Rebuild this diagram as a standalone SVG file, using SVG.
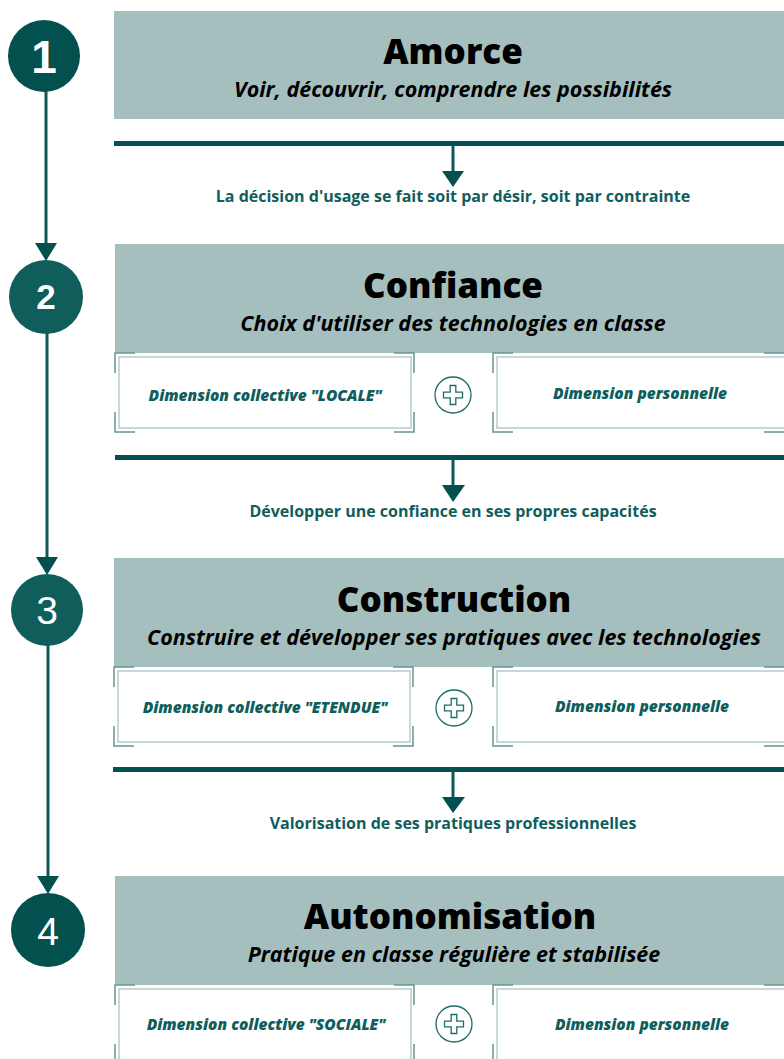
<svg xmlns="http://www.w3.org/2000/svg" width="784" height="1059" viewBox="0 0 784 1059">
<style>
.hdr{fill:#a5bfbf}
.title{font-family:"Open Sans","Liberation Sans",sans-serif;font-weight:800;font-size:35px;fill:#000;text-anchor:middle}
.sub{font-family:"Open Sans","Liberation Sans",sans-serif;font-weight:700;font-style:italic;font-size:21.5px;fill:#000;text-anchor:middle}
.lbl{font-family:"Open Sans","Liberation Sans",sans-serif;font-weight:700;font-size:16px;fill:#0f5e5c;text-anchor:middle}
.dim{font-family:"Open Sans","Liberation Sans",sans-serif;font-weight:800;font-style:italic;font-size:15.5px;fill:#0f5e5c;text-anchor:middle}
.num{font-family:"Liberation Sans",Arial,sans-serif;fill:#fff;text-anchor:middle}
.bar{fill:#02514f}
.brk{fill:none;stroke:#6a9494;stroke-width:1.5}
.inner{fill:#fff;stroke:#b5cccc;stroke-width:1.5}
.plus{fill:none;stroke:#1e6b69;stroke-width:1.3}
.conn{stroke:#0d5957;stroke-width:3;fill:none}
.tri{fill:#02514f}
</style>
<defs>
<g id="plusIcon">
<circle cx="0" cy="0" r="18" class="plus"/>
<path class="plus" d="M-2.8,-9.5 H2.8 V-2.8 H9.5 V2.8 H2.8 V9.5 H-2.8 V2.8 H-9.5 V-2.8 H-2.8 Z"/>
</g>
</defs>
<rect width="784" height="1059" fill="#fff"/>

<!-- connectors -->
<g id="connectors">
<line class="conn" x1="46" y1="90" x2="46" y2="246"/>
<polygon class="tri" points="35,243 57,243 46,261"/>
<line class="conn" x1="47" y1="332" x2="47" y2="560"/>
<polygon class="tri" points="36,557 58,557 47,575"/>
<line class="conn" x1="48" y1="645" x2="48" y2="879"/>
<polygon class="tri" points="37,876 59,876 48,894"/>

<rect class="bar" x="114" y="141" width="670" height="5"/>
<line class="conn" x1="453" y1="146" x2="453" y2="174"/>
<polygon class="tri" points="442,171 464,171 453,187"/>

<rect class="bar" x="115" y="455" width="669" height="5"/>
<line class="conn" x1="453" y1="460" x2="453" y2="487"/>
<polygon class="tri" points="442,485 465,485 453,502"/>

<rect class="bar" x="113" y="767" width="671" height="5"/>
<line class="conn" x1="453" y1="772" x2="453" y2="799"/>
<polygon class="tri" points="442,797 465,797 453,813"/>
</g>

<!-- step circles -->
<g id="step1">
<circle cx="44" cy="56" r="36" fill="#02514f"/>
<text class="num" x="44" y="73" font-size="46" font-weight="700">1</text>
</g>
<g id="step2">
<circle cx="46" cy="297" r="37" fill="#0f5e5c"/>
<text class="num" x="46" y="309" font-size="35" font-weight="700">2</text>
</g>
<g id="step3">
<circle cx="47" cy="610" r="36" fill="#0f5e5c"/>
<text class="num" x="47" y="624" font-size="39">3</text>
</g>
<g id="step4">
<circle cx="48" cy="930" r="37" fill="#02514f"/>
<text class="num" x="48" y="945" font-size="39">4</text>
</g>

<!-- Amorce -->
<g id="amorce">
<rect class="hdr" x="114" y="11" width="670" height="108"/>
<text class="title" x="453" y="64">Amorce</text>
<text class="sub" x="453" y="97">Voir, découvrir, comprendre les possibilités</text>
</g>
<g id="label1"><text class="lbl" x="453" y="202">La décision d'usage se fait soit par désir, soit par contrainte</text></g>

<!-- Confiance -->
<g id="confiance">
<rect class="hdr" x="115" y="244" width="669" height="109"/>
<text class="title" x="453" y="298">Confiance</text>
<text class="sub" x="453" y="331">Choix d'utiliser des technologies en classe</text>
</g>
<g id="conf-left">
<rect class="inner" x="119" y="357" width="292" height="71"/>
<path class="brk" d="M115,373 V353 H135 M394,353 H414 V373 M414,412 V432 H394 M135,432 H115 V412"/>
<text class="dim" x="265" y="401">Dimension collective "LOCALE"</text>
</g>
<g id="conf-plus"><use href="#plusIcon" x="453" y="395"/></g>
<g id="conf-right">
<rect class="inner" x="497" y="357" width="300" height="71"/>
<path class="brk" d="M493,373 V353 H513 M513,432 H493 V412 M764,353 H790 M764,432 H790"/>
<text class="dim" x="640" y="399">Dimension personnelle</text>
</g>
<g id="label2"><text class="lbl" x="453" y="517">Développer une confiance en ses propres capacités</text></g>

<!-- Construction -->
<g id="construction">
<rect class="hdr" x="114" y="558" width="670" height="109"/>
<text class="title" x="454" y="612">Construction</text>
<text class="sub" x="454" y="645">Construire et développer ses pratiques avec les technologies</text>
</g>
<g id="cons-left">
<rect class="inner" x="118" y="671" width="292" height="71"/>
<path class="brk" d="M114,687 V667 H134 M393,667 H413 V687 M413,726 V746 H393 M134,746 H114 V726"/>
<text class="dim" x="265" y="713">Dimension collective "ETENDUE"</text>
</g>
<g id="cons-plus"><use href="#plusIcon" x="454" y="708"/></g>
<g id="cons-right">
<rect class="inner" x="497" y="671" width="300" height="71"/>
<path class="brk" d="M493,687 V667 H513 M513,746 H493 V726 M764,667 H790 M764,746 H790"/>
<text class="dim" x="642" y="712">Dimension personnelle</text>
</g>
<g id="label3"><text class="lbl" x="453" y="829">Valorisation de ses pratiques professionnelles</text></g>

<!-- Autonomisation -->
<g id="autonomisation">
<rect class="hdr" x="115" y="876" width="669" height="109"/>
<text class="title" x="450" y="929">Autonomisation</text>
<text class="sub" x="454" y="962">Pratique en classe régulière et stabilisée</text>
</g>
<g id="auto-left">
<rect class="inner" x="119" y="989" width="292" height="80"/>
<path class="brk" d="M115,1005 V985 H135 M394,985 H414 V1005 M414,1044 V1064 M115,1044 V1064"/>
<text class="dim" x="266" y="1030">Dimension collective "SOCIALE"</text>
</g>
<g id="auto-plus"><use href="#plusIcon" x="454" y="1024"/></g>
<g id="auto-right">
<rect class="inner" x="497" y="989" width="300" height="80"/>
<path class="brk" d="M493,1005 V985 H513 M493,1044 V1064 M764,985 H790"/>
<text class="dim" x="642" y="1030">Dimension personnelle</text>
</g>
</svg>
